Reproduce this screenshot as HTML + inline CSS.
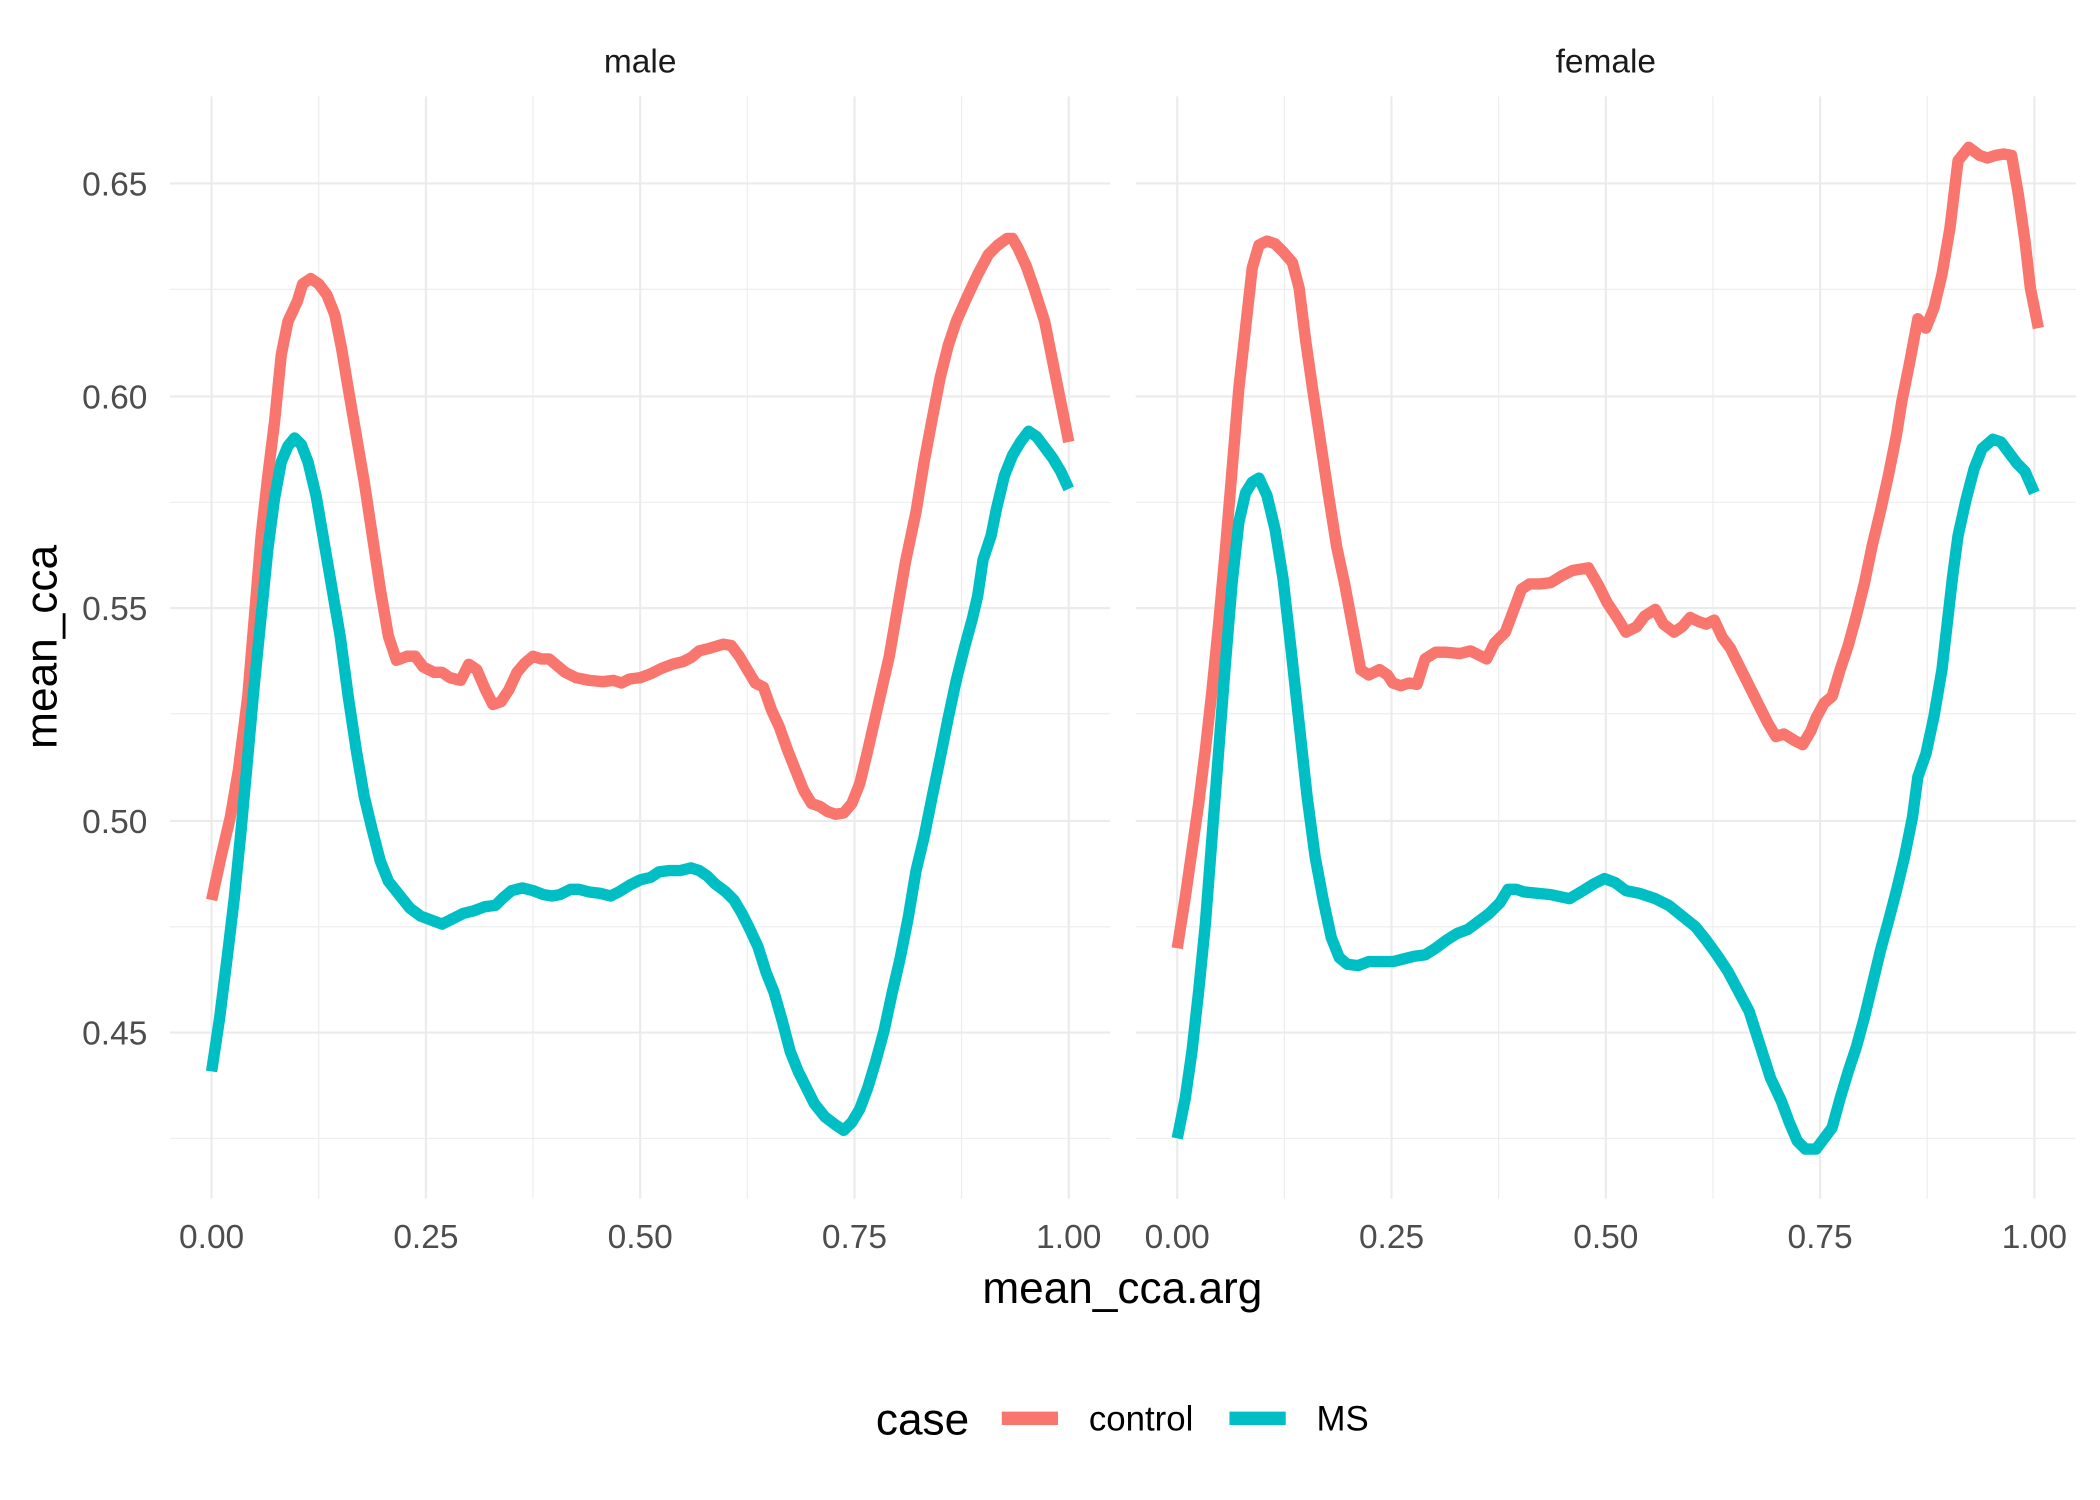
<!DOCTYPE html>
<html><head><meta charset="utf-8"><style>
html,body{margin:0;padding:0;background:#fff}
svg{display:block}
text{font-family:"Liberation Sans",sans-serif}
</style></head><body>
<svg width="2100" height="1500" viewBox="0 0 1568 1120" preserveAspectRatio="none" xmlns="http://www.w3.org/2000/svg">
<rect width="1568" height="1120" fill="#fff"/>
<g stroke="#ebebeb" stroke-width="0.8" fill="none">
<path d="M127 850H829M127 692H829M127 533H829M127 375H829M127 216H829M848 850H1550M848 692H1550M848 533H1550M848 375H1550M848 216H1550"/>
<path d="M238 72V895M398 72V895M558 72V895M718 72V895M959 72V895M1119 72V895M1279 72V895M1439 72V895"/>
</g>
<g stroke="#ebebeb" stroke-width="1.6" fill="none">
<path d="M127 771H829M127 613H829M127 454H829M127 296H829M127 137H829M848 771H1550M848 613H1550M848 454H1550M848 296H1550M848 137H1550"/>
<path d="M158 72V895M318 72V895M478 72V895M638 72V895M798 72V895M879 72V895M1039 72V895M1199 72V895M1359 72V895M1519 72V895"/>
</g>
<g fill="none" stroke-width="8.5" stroke-linejoin="round">
<polyline stroke="#F8766D" points="158,672 165,640 172,610 178,575 185,520 190,460 195,400 200,355 205,315 210,265 215,240 222,225 226,212 232,208 238,212 244,220 250,235 255,260 260,290 266,325 272,360 278,400 284,440 290,475 296,493 304,490 310,490 316,498 324,502 330,502 336,506 344,508 350,496 356,500 362,514 368,526 374,524 380,515 386,502 392,495 398,490 404,492 410,492 416,497 422,502 430,506 440,508 450,509 458,508 464,510 470,507 478,506 486,503 494,499 502,496 510,494 516,491 522,486 530,484 540,481 546,482 552,490 558,500 564,510 570,513 576,530 582,543 588,560 594,575 600,590 606,600 612,602 618,606 624,608 630,607 636,600 642,585 648,560 656,525 664,490 670,455 676,420 684,382 690,345 696,313 702,282 708,258 714,240 722,222 730,205 738,190 745,183 752,178 756,178 760,185 766,198 772,215 780,240 786,270 792,300 798,330"/>
<polyline stroke="#00BFC4" points="158,800 164,760 170,712 175,670 180,620 185,565 190,510 195,460 200,410 205,372 210,345 215,333 220,327 225,332 230,345 236,370 242,405 248,440 254,475 260,520 266,560 272,595 278,620 284,643 290,658 298,668 306,678 314,684 322,687 330,690 338,686 346,682 354,680 362,677 370,676 376,670 382,665 390,663 398,665 406,668 412,669 418,668 426,664 432,664 440,666 448,667 456,669 462,666 470,661 478,657 486,655 492,651 500,650 508,650 516,648 522,650 528,654 534,660 542,666 548,672 554,682 560,694 566,707 572,726 578,741 584,762 590,785 596,800 602,812 608,824 616,834 624,840 630,844 636,838 642,828 648,812 654,792 660,770 666,742 672,716 678,686 684,650 690,625 696,595 702,566 708,536 714,508 720,484 726,462 730,445 734,418 740,400 744,380 750,355 756,340 762,330 768,322 774,326 780,334 786,342 792,352 798,365"/>
<polyline stroke="#F8766D" points="879,708 885,670 890,635 895,600 900,560 905,515 910,465 915,410 920,350 925,290 930,245 935,200 940,183 946,180 952,182 958,188 965,196 970,215 975,255 980,290 986,330 992,370 998,408 1004,436 1010,468 1016,500 1022,504 1030,500 1036,504 1040,510 1046,512 1052,510 1058,511 1064,492 1072,487 1080,487 1090,488 1098,486 1106,490 1110,492 1116,480 1124,472 1130,456 1136,440 1142,436 1150,436 1158,435 1166,430 1174,426 1186,424 1194,438 1200,450 1208,462 1214,472 1222,468 1228,460 1236,455 1242,466 1250,472 1256,468 1262,461 1268,464 1274,466 1280,463 1286,476 1292,484 1300,500 1308,516 1314,528 1320,540 1326,550 1332,548 1340,553 1346,556 1352,546 1356,536 1362,525 1368,520 1374,500 1380,482 1386,460 1392,436 1398,407 1404,382 1410,355 1416,325 1420,300 1426,270 1432,238 1438,245 1444,230 1450,205 1456,170 1462,120 1470,110 1478,116 1484,118 1490,116 1496,115 1502,116 1507,145 1512,180 1516,215 1522,245"/>
<polyline stroke="#00BFC4" points="879,850 885,820 890,785 895,740 900,690 905,625 910,560 915,495 920,435 925,390 930,368 935,360 940,357 946,370 952,395 958,432 964,485 970,540 976,595 982,640 988,672 994,700 1000,715 1006,720 1014,721 1022,718 1030,718 1040,718 1048,716 1056,714 1064,713 1072,708 1080,702 1088,697 1096,694 1104,688 1112,682 1120,674 1126,664 1132,664 1138,666 1148,667 1158,668 1172,671 1182,665 1190,660 1198,656 1206,659 1214,665 1224,667 1236,671 1246,676 1256,684 1266,692 1274,702 1282,713 1290,725 1298,740 1306,755 1314,780 1322,805 1330,822 1336,838 1342,852 1348,858 1356,858 1362,850 1368,842 1374,820 1380,800 1386,782 1392,760 1398,735 1404,710 1410,688 1416,665 1422,640 1428,610 1432,580 1438,563 1444,535 1450,500 1454,465 1458,430 1462,400 1468,373 1474,350 1480,335 1488,328 1494,330 1500,338 1506,346 1512,352 1519,368"/>
</g>
<g font-size="25" fill="#1a1a1a" text-anchor="middle">
<text x="478" y="54">male</text>
<text x="1199" y="54">female</text>
</g>
<g font-size="25" fill="#4d4d4d" text-anchor="end">
<text x="110" y="146">0.65</text>
<text x="110" y="305">0.60</text>
<text x="110" y="463">0.55</text>
<text x="110" y="622">0.50</text>
<text x="110" y="780">0.45</text>
</g>
<g font-size="25" fill="#4d4d4d" text-anchor="middle">
<text x="158" y="932">0.00</text><text x="318" y="932">0.25</text><text x="478" y="932">0.50</text><text x="638" y="932">0.75</text><text x="798" y="932">1.00</text>
<text x="879" y="932">0.00</text><text x="1039" y="932">0.25</text><text x="1199" y="932">0.50</text><text x="1359" y="932">0.75</text><text x="1519" y="932">1.00</text>
</g>
<text x="838" y="973" font-size="33" fill="#000" text-anchor="middle">mean_cca.arg</text>
<text transform="translate(42,483) rotate(-90)" font-size="33" fill="#000" text-anchor="middle">mean_cca</text>
<text x="654" y="1071" font-size="33" fill="#000">case</text>
<rect x="748" y="1054" width="42" height="10" fill="#F8766D"/>
<text x="813" y="1068" font-size="26" fill="#000">control</text>
<rect x="918" y="1054" width="42" height="10" fill="#00BFC4"/>
<text x="983" y="1068" font-size="26" fill="#000">MS</text>
</svg>
</body></html>
